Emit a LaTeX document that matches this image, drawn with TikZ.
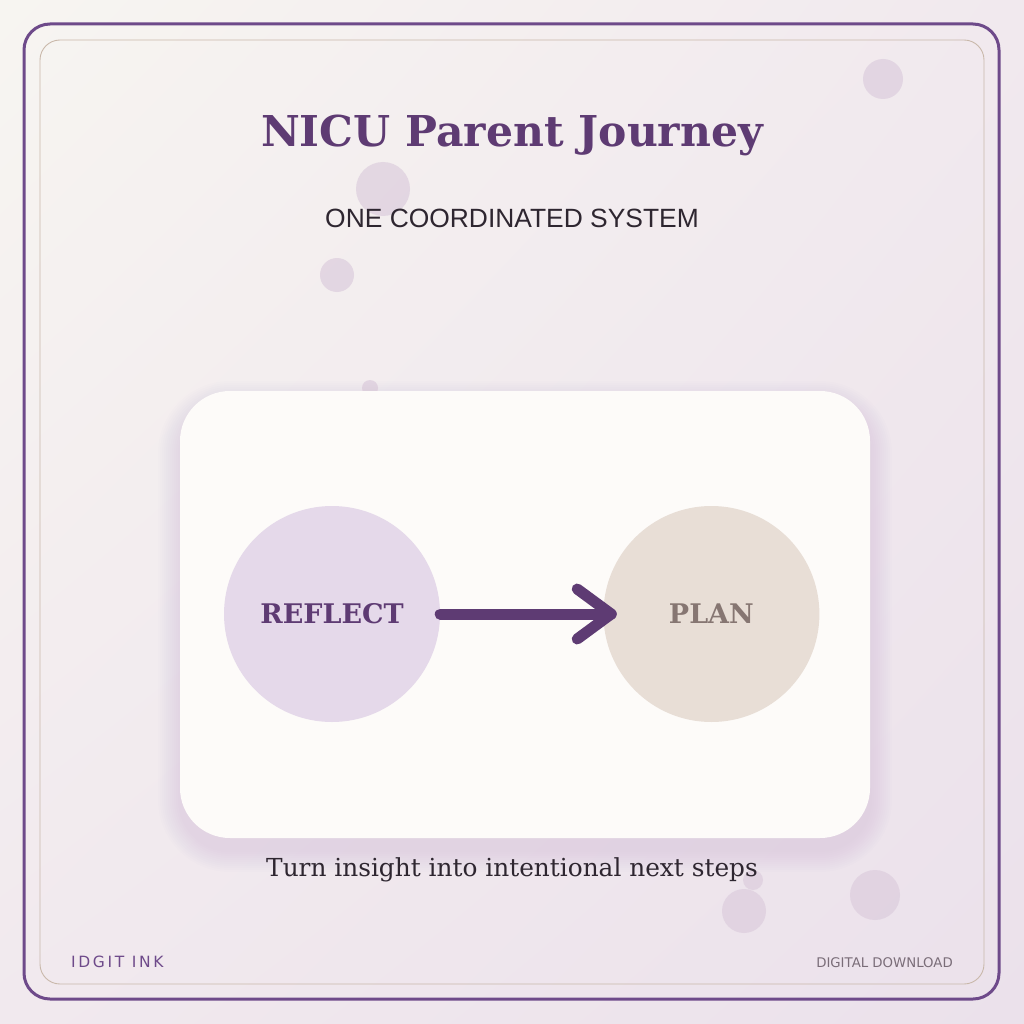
\documentclass[tikz,border=0pt]{standalone}
\usepackage{fontspec}
\setmainfont{DejaVu Serif}
\setsansfont{DejaVu Sans}
\newfontfamily\capsfont{Liberation Sans}
\usetikzlibrary{positioning, calc, shadings}

\definecolor{plum}{HTML}{5E3B73}
\definecolor{framepurple}{HTML}{6E4A8A}
\definecolor{framesand}{HTML}{C9B8AA}
\definecolor{bgtl}{HTML}{F7F5F1}
\definecolor{bgbr}{HTML}{EBE1EB}
\definecolor{bgmid}{HTML}{F1E9EE}
\definecolor{cardfill}{HTML}{FDFBF9}
\definecolor{reflectfill}{HTML}{E5D9EA}
\definecolor{planfill}{HTML}{E8DED6}
\definecolor{plantext}{HTML}{867672}
\definecolor{inkdark}{HTML}{2E2630}
\definecolor{bubble}{HTML}{DCCDDD}
\definecolor{footgray}{HTML}{7A6D78}
\definecolor{shadowtone}{HTML}{6A5676}

\begin{document}
\begin{tikzpicture}[
  x=1pt, y=-1pt,
  bub/.style   = {fill=bubble, opacity=0.7},
  card/.style  = {fill=cardfill, rounded corners=50pt, inner sep=0pt, minimum width=690pt, minimum height=447pt},
  stage/.style = {circle, inner sep=0pt, minimum size=216pt, font=\bfseries\fontsize{27}{32}\selectfont},
  flow/.style  = {line width=11pt, plum, line cap=round, line join=round},
  label/.style = {inner sep=0pt, anchor=base},
]
  \useasboundingbox (0,0) rectangle (1024,1024);
  \shade[upper left=bgtl, upper right=bgmid, lower left=bgmid, lower right=bgbr] (0,0) rectangle (1024,1024);

  % floating dots
  \foreach \bx/\by/\br in {883/79/20, 383/189/27, 337/275/17, 370/388/8, 875/895/25, 744/911/22, 753/880/10}
    \fill[bub] (\bx,\by) circle[radius=\br];

  % frames
  \draw[framepurple, line width=3pt, rounded corners=26pt] (24,24) rectangle (999,999);
  \draw[framesand, line width=0.9pt, rounded corners=20pt] (40,40) rectangle (984,984);

  % card shadow
  \foreach \s [evaluate=\s as \rc using 50+\s] in {2,4,...,22}
    \fill[shadowtone, opacity=0.009, rounded corners=\rc pt] (180-\s,403-\s) rectangle (870+\s,850+\s);
  \node[card] (card) at (525,614.5) {};

  \node[label, font=\bfseries\fontsize{42.5}{50}\selectfont, text=plum] (title) at (512,147) {NICU Parent Journey};
  \node[label, font=\capsfont\fontsize{26.4}{31}\selectfont, text=inkdark] (subtitle) at (512,228) {ONE COORDINATED SYSTEM};

  \node[stage, fill=reflectfill, text=plum] (reflect) at (332,614) {REFLECT};
  \node[stage, fill=planfill, text=plantext, right=163pt of reflect] (plan) {PLAN};
  \coordinate (tip) at ([xshift=8pt]plan.west);
  \draw[flow] (reflect.east) -- (tip);
  \draw[flow] ([shift={(-34pt,25pt)}]tip) -- (tip) -- ([shift={(-34pt,-25pt)}]tip);

  \node[label, font=\fontsize{24.8}{30}\selectfont, text=inkdark] (caption) at (512,876) {Turn insight into intentional next steps};

  \node[inner sep=0pt, anchor=base west, font=\sffamily\fontsize{15.5}{18}\selectfont\addfontfeatures{LetterSpace=17}, text=framepurple] (brand) at (71,967) {IDGIT INK};
  \node[inner sep=0pt, anchor=base east, font=\sffamily\fontsize{13.3}{16}\selectfont, text=footgray] (format) at (953,967) {DIGITAL DOWNLOAD};
\end{tikzpicture}
\end{document}
